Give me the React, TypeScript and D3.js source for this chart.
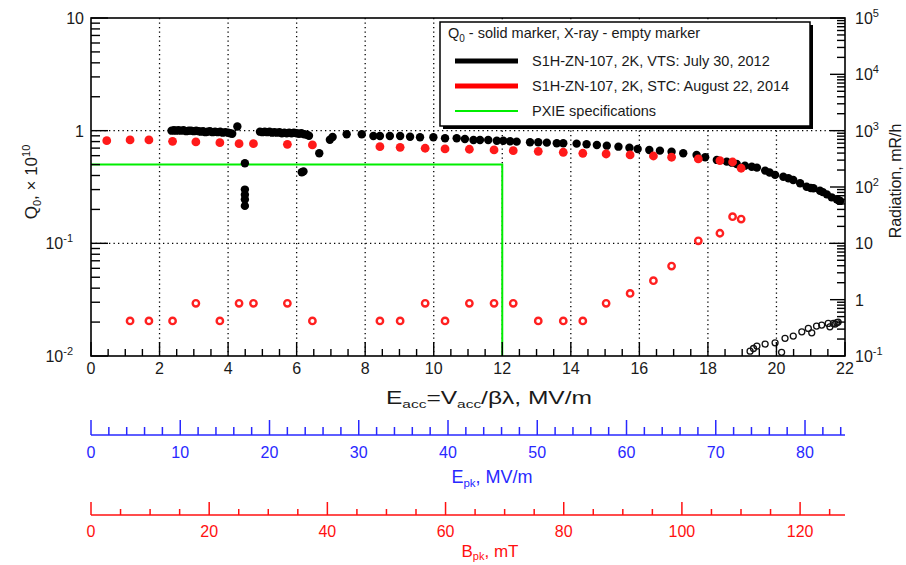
import * as d3 from "d3";

// Q0 (left axis, x 1e10) vs Eacc, VTS 2012 (black solid)
const vtsQ0: [number, number][] = [
  [2.35, 1.0], [2.42, 1.01], [2.48, 1.0], [2.55, 1.01], [2.62, 1.0], [2.7, 1.01], [2.78, 0.99], [2.85, 1.0],
  [2.92, 1.0], [3.0, 0.99], [3.07, 1.0], [3.14, 0.99], [3.2, 0.98], [3.27, 0.99], [3.34, 0.97], [3.4, 0.98],
  [3.47, 0.99], [3.55, 0.97], [3.62, 0.98], [3.7, 0.97], [3.77, 0.98], [3.84, 0.96], [3.92, 0.97], [4.0, 0.96],
  [4.06, 0.95], [4.12, 0.94],
  [4.27, 1.09], [4.49, 0.514], [4.49, 0.3], [4.49, 0.27], [4.49, 0.245], [4.49, 0.215],
  [4.93, 0.98], [5.0, 0.97], [5.07, 0.98], [5.14, 0.97], [5.21, 0.98], [5.28, 0.96], [5.35, 0.97], [5.42, 0.96],
  [5.5, 0.97], [5.57, 0.95], [5.64, 0.96], [5.71, 0.95], [5.78, 0.96], [5.85, 0.95], [5.92, 0.96], [6.0, 0.95],
  [6.07, 0.94], [6.14, 0.95], [6.22, 0.93], [6.3, 0.92], [6.36, 0.9],
  [6.15, 0.427], [6.2, 0.435], [6.66, 0.63], [6.97, 0.83], [7.05, 0.88],
  [7.46, 0.929], [7.9, 0.929], [8.24, 0.897], [8.43, 0.897], [8.72, 0.897], [9.02, 0.897], [9.31, 0.884],
  [9.6, 0.874], [9.99, 0.874], [10.33, 0.856], [10.67, 0.856], [10.91, 0.844], [11.16, 0.827], [11.35, 0.827],
  [11.59, 0.827], [11.84, 0.815], [12.03, 0.815], [12.23, 0.805], [12.42, 0.799], [12.81, 0.789], [13.05, 0.789],
  [13.3, 0.783], [13.59, 0.773], [13.78, 0.773], [14.17, 0.767], [14.46, 0.757], [14.76, 0.747],
  [15.05, 0.736], [15.39, 0.721], [15.71, 0.706], [15.95, 0.688], [16.29, 0.674], [16.6, 0.665], [16.94, 0.651],
  [17.28, 0.63], [17.67, 0.609], [17.92, 0.581], [18.26, 0.55], [18.55, 0.531], [18.7, 0.52], [18.84, 0.506],
  [19.08, 0.489], [19.28, 0.479], [19.43, 0.47], [19.67, 0.442], [19.8, 0.425], [19.96, 0.405], [20.2, 0.39],
  [20.35, 0.378], [20.49, 0.365], [20.69, 0.341], [20.88, 0.318], [21.0, 0.31], [21.08, 0.308], [21.27, 0.293],
  [21.35, 0.285], [21.47, 0.272], [21.61, 0.256], [21.76, 0.246], [21.82, 0.24], [21.86, 0.238],
];

// Q0 vs Eacc, STC 2014 (red solid)
const stcQ0: [number, number][] = [
  [0.46, 0.815], [1.14, 0.827], [1.69, 0.827], [2.38, 0.805], [3.06, 0.794], [3.76, 0.782], [4.32, 0.767],
  [4.74, 0.767], [5.73, 0.757], [6.46, 0.747], [8.43, 0.721], [9.02, 0.712], [9.75, 0.698], [10.33, 0.688],
  [11.04, 0.684], [11.76, 0.674], [12.32, 0.665], [13.05, 0.656], [13.78, 0.643], [14.35, 0.63], [15.03, 0.621],
  [15.73, 0.609], [16.41, 0.596], [16.94, 0.581], [17.72, 0.561], [18.35, 0.542], [18.72, 0.527], [18.97, 0.464],
];

// X-ray (right axis, mR/h), STC 2014 (red open)
const stcXray: [number, number][] = [
  [1.14, 0.42], [1.69, 0.42], [2.38, 0.42], [3.06, 0.86], [3.76, 0.42], [4.32, 0.86], [4.74, 0.86], [5.73, 0.86],
  [6.46, 0.42], [8.43, 0.42], [9.02, 0.42], [9.75, 0.86], [10.33, 0.42], [11.04, 0.86], [11.76, 0.86],
  [12.32, 0.86], [13.05, 0.42], [13.78, 0.42], [14.35, 0.42], [15.03, 0.86], [15.73, 1.29], [16.41, 2.17],
  [16.94, 3.95], [17.72, 11.1], [18.35, 15.1], [18.72, 29.7], [18.97, 27],
];

// X-ray, VTS 2012 (black open)
const vtsXray: [number, number][] = [
  [19.23, 0.122], [19.33, 0.136], [19.43, 0.15], [19.67, 0.163], [19.96, 0.171], [20.15, 0.116], [20.25, 0.206],
  [20.49, 0.226], [20.74, 0.269], [20.93, 0.309], [21.03, 0.258], [21.17, 0.34], [21.32, 0.354], [21.51, 0.379],
  [21.56, 0.33], [21.66, 0.379], [21.71, 0.369], [21.76, 0.39], [21.8, 0.4],
];

// PXIE spec line
const pxieE = [0, 12, 12];
const pxieQ0 = [0.5, 0.5, 0.01];

const xTickLabels = [0, 2, 4, 6, 8, 10, 12, 14, 16, 18, 20, 22];
const epkLabels = [0, 10, 20, 30, 40, 50, 60, 70, 80];
const bpkLabels = [0, 20, 40, 60, 80, 100, 120];
const leftLabels: [number, string, string][] = [[10, "10", ""], [1, "1", ""], [0.1, "10", "-1"], [0.01, "10", "-2"]];
const rightLabels: [number, string, string][] = [
  [1e5, "10", "5"], [1e4, "10", "4"], [1e3, "10", "3"], [100, "10", "2"], [10, "10", ""], [1, "1", ""], [0.1, "10", "-1"],
];

const legendItems = [
  { label: "S1H-ZN-107, 2K, VTS: July 30, 2012", color: "#000", width: 5 },
  { label: "S1H-ZN-107, 2K, STC: August 22, 2014", color: "#ff0000", width: 5 },
  { label: "PXIE specifications", color: "#00ee00", width: 2 },
];

const L = 91, R = 845, T = 18, B = 356;
const x = d3.scaleLinear().domain([0, 22]).range([L, R]);
const yL = d3.scaleLog().domain([0.01, 10]).range([B, T]);
const yR = d3.scaleLog().domain([0.1, 1e5]).range([B, T]);
const epk = d3.scaleLinear().domain([0, 22 * 3.84]).range([L, R]);
const bpk = d3.scaleLinear().domain([0, 22 * 5.8]).range([L, R]);

const isDecade = (v: number) => Math.abs(Math.log10(v) - Math.round(Math.log10(v))) < 1e-6;
const txt = "#1a1a1a";
const BLUE = "#2828ff";
const RED = "#ff1010";

export default function App() {
  const pxieLine = d3.line<number>().x((_, i) => x(pxieE[i])).y((d) => yL(d))(pxieQ0) || "";
  const minorX = d3.range(0, 22.01, 0.5);
  const epkTicks = d3.range(0, 84.5, 2);
  const bpkTicks = d3.range(0, 127.6, 5);

  return (
    <svg width={906} height={565} style={{ position: "absolute", left: 0, top: 0, background: "#fff" }}
      fontFamily="'Liberation Sans', Arial, Helvetica, sans-serif">
      {/* grid */}
      <g stroke="#000" strokeWidth={1.3} strokeDasharray="1.3 3.2">
        {d3.range(2, 21, 2).map((v) => <line key={"gx" + v} x1={x(v)} x2={x(v)} y1={T} y2={B} />)}
        {[1, 0.1].map((v) => <line key={"gy" + v} x1={L} x2={R} y1={yL(v)} y2={yL(v)} />)}
      </g>

      {/* PXIE spec */}
      <path d={pxieLine} fill="none" stroke="#00ee00" strokeWidth={2} />

      {/* data */}
      <g fill="#000">
        {vtsQ0.map(([e, q], i) => <circle key={"vq" + i} cx={x(e)} cy={yL(q)} r={4.2} />)}
      </g>
      <g fill="#ff1a1a">
        {stcQ0.map(([e, q], i) => <circle key={"sq" + i} cx={x(e)} cy={yL(q)} r={4.4} />)}
      </g>
      <g fill="none" stroke="#ff2020" strokeWidth={2.4}>
        {stcXray.map(([e, r], i) => <circle key={"sx" + i} cx={x(e)} cy={yR(r)} r={3.2} />)}
      </g>
      <g fill="none" stroke="#111" strokeWidth={1.3}>
        {vtsXray.map(([e, r], i) => <circle key={"vx" + i} cx={x(e)} cy={yR(r)} r={3} />)}
      </g>

      {/* legend */}
      <rect x={443} y={25} width={370} height={104} fill="#000" />
      <rect x={440} y={22} width={370} height={104} fill="#fff" stroke="#000" strokeWidth={1.5} />
      <text x={448} y={38} fontSize={14.5} fill={txt}>
        Q<tspan dy={4} fontSize={10}>0</tspan><tspan dy={-4}> - solid marker, X-ray - empty marker</tspan>
      </text>
      {legendItems.map((it, i) => (
        <g key={it.label}>
          <line x1={455} x2={518} y1={61 + i * 25} y2={61 + i * 25} stroke={it.color} strokeWidth={it.width} />
          <text x={532} y={66 + i * 25} fontSize={14.5} fill={txt}>{it.label}</text>
        </g>
      ))}

      {/* frame */}
      <rect x={L} y={T} width={R - L} height={B - T} fill="none" stroke="#000" strokeWidth={1.6} />

      {/* axis ticks */}
      <g stroke="#000" strokeWidth={1.4}>
        {minorX.map((v) => {
          const major = Math.abs(v / 2 - Math.round(v / 2)) < 1e-6;
          return <line key={"tx" + v} x1={x(v)} x2={x(v)} y1={B} y2={B - (major ? 14 : 7)} />;
        })}
        {yL.ticks().map((v) => (
          <line key={"tl" + v} x1={L} x2={L + (isDecade(v) ? 17 : 9)} y1={yL(v)} y2={yL(v)} />
        ))}
        {yR.ticks().map((v) => (
          <line key={"tr" + v} x1={R} x2={R - (isDecade(v) ? 15 : 8)} y1={yR(v)} y2={yR(v)} />
        ))}
      </g>

      {/* tick labels */}
      <g fontSize={16} fill={txt}>
        {xTickLabels.map((v) => <text key={"lx" + v} x={x(v)} y={374} textAnchor="middle">{v}</text>)}
        {leftLabels.map(([v, a, s]) => (
          <text key={"ll" + v} x={s ? 84 - 11 : 84} y={yL(v) + 6} textAnchor="end">
            {a}
            {s && <tspan dy={-7} fontSize={11}>{s}</tspan>}
          </text>
        ))}
        {rightLabels.map(([v, a, s]) => (
          <text key={"lr" + v} x={855} y={yR(v) + 6}>
            {a}
            {s && <tspan dy={-7} fontSize={11}>{s}</tspan>}
          </text>
        ))}
      </g>

      {/* axis titles */}
      <text x={386} y={404} fontSize={17.5} fill={txt} textLength={206} lengthAdjust="spacingAndGlyphs">
        E<tspan dy={4} fontSize={11}>acc</tspan><tspan dy={-4}>=V</tspan><tspan dy={4} fontSize={11}>acc</tspan>
        <tspan dy={-4}>/βλ, MV/m</tspan>
      </text>
      <text transform="translate(37,182) rotate(-90)" textAnchor="middle" fontSize={17} fill={txt}>
        Q<tspan dy={4} fontSize={11}>0</tspan><tspan dy={-4}>, × 10</tspan><tspan dy={-7} fontSize={11}>10</tspan>
      </text>
      <text transform="translate(901,181) rotate(-90)" textAnchor="middle" fontSize={16} fill={txt}>
        Radiation, mR/h
      </text>

      {/* Epk axis */}
      <g stroke={BLUE} strokeWidth={1.5}>
        <line x1={L} x2={R} y1={435} y2={435} />
        {epkTicks.map((v) => (
          <line key={"te" + v} x1={epk(v)} x2={epk(v)} y1={435} y2={435 - (v % 10 === 0 ? 15 : 8)} />
        ))}
      </g>
      <g fontSize={16} fill={BLUE} textAnchor="middle">
        {epkLabels.map((v) => <text key={"le" + v} x={epk(v)} y={458}>{v}</text>)}
      </g>
      <text x={492} y={483} textAnchor="middle" fontSize={18} fill={BLUE}>
        E<tspan dy={4} fontSize={11.5}>pk</tspan><tspan dy={-4}>, MV/m</tspan>
      </text>

      {/* Bpk axis */}
      <g stroke={RED} strokeWidth={1.5}>
        <line x1={L} x2={R} y1={515} y2={515} />
        {bpkTicks.map((v) => (
          <line key={"tb" + v} x1={bpk(v)} x2={bpk(v)} y1={515} y2={515 - (v % 20 === 0 ? 13 : 6)} />
        ))}
      </g>
      <g fontSize={16} fill={RED} textAnchor="middle">
        {bpkLabels.map((v) => <text key={"lb" + v} x={bpk(v)} y={537}>{v}</text>)}
      </g>
      <text x={490} y={557} textAnchor="middle" fontSize={17} fill={RED}>
        B<tspan dy={3} fontSize={11}>pk</tspan><tspan dy={-3}>, mT</tspan>
      </text>
    </svg>
  );
}
